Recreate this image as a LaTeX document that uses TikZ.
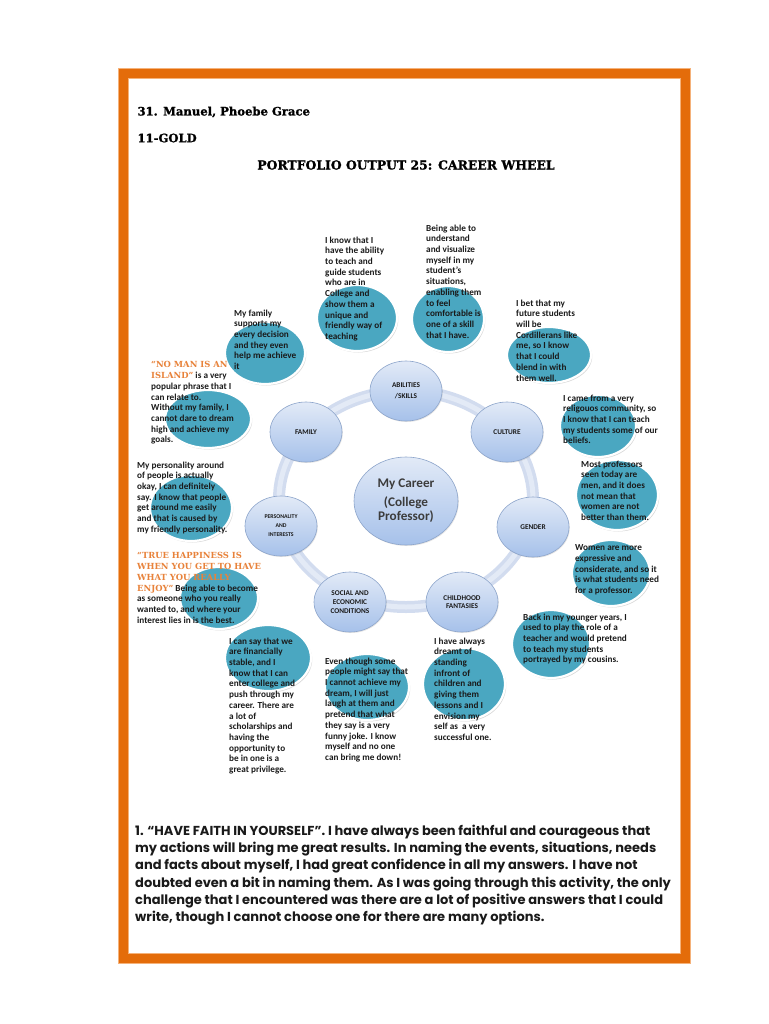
\documentclass[tikz,border=0pt]{standalone}
\usepackage{fontspec}
\setmainfont{Carlito}
\newfontfamily\headfont{DejaVu Serif}[BoldFeatures={FakeBold=1.2}]
\newfontfamily\quotefont{DejaVu Serif}
\newfontfamily\gothicfont{Poppins}
\usetikzlibrary{shapes.geometric,shadows}
\definecolor{cwframe}{HTML}{E46C0A}
\definecolor{cwframelt}{HTML}{F5B27A}
\definecolor{cwteal}{HTML}{4AA7C1}
\definecolor{cwring}{HTML}{D2DCEF}
\definecolor{cwringlt}{HTML}{E3EAF6}
\definecolor{cwtop}{HTML}{E2EAF7}
\definecolor{cwbot}{HTML}{A6C1EA}
\definecolor{cwedge}{HTML}{8DA5CB}
\definecolor{cwtext}{HTML}{1A1A1A}
\definecolor{cwquote}{HTML}{E8823A}
\newcommand{\orq}[1]{{\quotefont\bfseries\fontsize{8.4}{10.9}\selectfont\color{cwquote}#1}}

\begin{document}
\begin{tikzpicture}[x=1pt,y=-1pt,
    blob/.style={fill=cwteal,draw=white,line width=2.2pt,
      drop shadow={opacity=0.3,shadow xshift=1.2pt,shadow yshift=-1.5pt}},
    note/.style={anchor=north west,inner sep=0pt,align=left,text=cwtext,
      font=\bfseries\fontsize{9.2}{10.7}\selectfont},
    spoke/.style={ellipse,minimum width=72pt,minimum height=60pt,inner sep=0pt,
      draw=cwedge,line width=0.6pt,top color=cwtop,bottom color=cwbot,
      align=center,text=cwtext,font=\bfseries\fontsize{7.3}{8.7}\selectfont,
      drop shadow={opacity=0.2,shadow xshift=0.8pt,shadow yshift=-1pt}}]
    \useasboundingbox (0,0) rectangle (768,1024);
    \fill[white] (0,0) rectangle (768,1024);
    % page frame
    \fill[cwframe] (118,68) rectangle (690,963);
    \fill[white] (128,78) rectangle (680,953);
    \draw[cwframelt,line width=0.8pt] (128,78) rectangle (680,953);
    \draw[cwframelt,line width=0.8pt] (118,68) rectangle (690,963);

    \node[anchor=west,font=\headfont\bfseries\fontsize{11.6}{13}\selectfont] (name) at (134,112) {31. Manuel, Phoebe Grace};
    \node[anchor=west,font=\headfont\bfseries\fontsize{11.6}{13}\selectfont] (section) at (134,138) {11-GOLD};
    \node[font=\headfont\bfseries\fontsize{12.4}{13}\selectfont] (title) at (406,165) {PORTFOLIO OUTPUT 25: CAREER WHEEL};

    % the wheel
    \draw[cwring,line width=12pt] (406,499) ellipse [x radius=127pt,y radius=108pt];
    \draw[cwringlt,line width=5pt] (406,499) ellipse [x radius=127pt,y radius=108pt];
    \node[spoke,minimum width=104pt,minimum height=88pt,font=\bfseries\fontsize{13.2}{14}\selectfont,text=cwtext!85]
      (career) at (406,501) {My Career\\[5pt](College\\Professor)};
    \foreach \px/\py/\nm/\txt in {406/391/abilities/{ABILITIES\\[2.5pt]/SKILLS},
        306/432/family/FAMILY, 507/432/culture/CULTURE, 533/527/gender/GENDER,
        350/602/social/{SOCIAL AND\\ECONOMIC\\CONDITIONS}, 462/602/childhood/{CHILDHOOD\\FANTASIES}} {
      \node[spoke] (\nm) at (\px,\py) {\txt};
    }
    \node[spoke,font=\bfseries\fontsize{5.8}{9}\selectfont] (personality) at (281,526) {PERSONALITY\\AND\\INTERESTS};

    % teal bubbles behind the notes
    \foreach \cx/\cy/\rx/\ry in {357/318/40/33, 448/319/36/33, 549/355/42/28, 265/353/40/31,
        208/419/43/29, 191/508/41/33, 219/598/39/31, 268/658/43/33, 367/687/42/33,
        464/684/41/36, 551/644/39/34, 611/573/39/33, 617/495/41/35, 598/426/38/31} {
      \path[blob] (\cx,\cy) ellipse [x radius=\rx pt,y radius=\ry pt];
    }

    \node[note] (teach) at (325,236.5) {I know that I\\have the ability\\to teach and\\guide students\\who are in\\College and\\show them a\\unique and\\friendly way of\\teaching};
    \node[note] (skill) at (426,224.5) {Being able to\\understand\\and visualize\\myself in my\\student's\\situations,\\enabling them\\to feel\\comfortable is\\one of a skill\\that I have.};
    \node[note] (cordillera) at (516,299.5) {I bet that my\\future students\\will be\\Cordillerans like\\me, so I know\\that I could\\blend in with\\them well.};
    \node[note] (support) at (234,309.5) {My family\\supports my\\every decision\\and they even\\help me achieve\\it};
    \node[note] (island) at (151,361.5) {\orq{“NO MAN IS AN}\\\orq{ISLAND”} is a very\\popular phrase that I\\can relate to.\\Without my family, I\\cannot dare to dream\\high and achieve my\\goals.};
    \node[note] (friendly) at (137,461.5) {My personality around\\of people is actually\\okay, I can definitely\\say. I know that people\\get around me easily\\and that is caused by\\my friendly personality.};
    \node[note] (happiness) at (137,552.5) {\orq{“TRUE HAPPINESS IS}\\\orq{WHEN YOU GET TO HAVE}\\\orq{WHAT YOU REALLY}\\\orq{ENJOY”} Being able to become\\as someone who you really\\wanted to, and where your\\interest lies in is the best.};
    \node[note] (stable) at (229,637.5) {I can say that we\\are financially\\stable, and I\\know that I can\\enter college and\\push through my\\career. There are\\a lot of\\scholarships and\\having the\\opportunity to\\be in one is a\\great privilege.};
    \node[note] (dream) at (325,657.5) {Even though some\\people might say that\\I cannot achieve my\\dream, I will just\\laugh at them and\\pretend that what\\they say is a very\\funny joke. I know\\myself and no one\\can bring me down!};
    \node[note] (lessons) at (434,637.5) {I have always\\dreamt of\\standing\\infront of\\children and\\giving them\\lessons and I\\envision my\\self as\ \ a very\\successful one.};
    \node[note] (cousins) at (523,613.5) {Back in my younger years, I\\used to play the role of a\\teacher and would pretend\\to teach my students\\portrayed by my cousins.};
    \node[note] (women) at (575,544.5) {Women are more\\expressive and\\considerate, and so it\\is what students need\\for a professor.};
    \node[note] (professors) at (581,460.5) {Most professors\\seen today are\\men, and it does\\not mean that\\women are not\\better than them.};
    \node[note] (beliefs) at (563,394.5) {I came from a very\\religouos community, so\\I know that I can teach\\my students some of our\\beliefs.};

    % reflection
    \node[anchor=north west,inner sep=0pt,align=left,text=cwtext,
      font=\gothicfont\bfseries\fontsize{13}{17.3}\selectfont] (reflection) at (135,824.5)
      {1. “HAVE FAITH IN YOURSELF”. I have always been faithful and courageous that\\
       my actions will bring me great results. In naming the events, situations, needs\\
       and facts about myself, I had great confidence in all my answers. I have not\\
       doubted even a bit in naming them. As I was going through this activity, the only\\
       challenge that I encountered was there are a lot of positive answers that I could\\
       write, though I cannot choose one for there are many options.};
\end{tikzpicture}
\end{document}
